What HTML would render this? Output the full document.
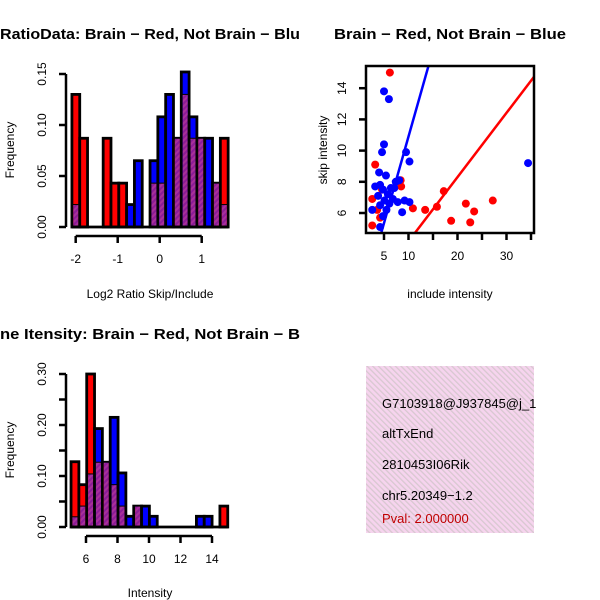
<!DOCTYPE html>
<html><head><meta charset="utf-8"><style>
html,body{margin:0;padding:0;background:#fff;}
svg{display:block;font-family:"Liberation Sans",sans-serif;}
</style></head><body>
<svg id="c" width="600" height="600" viewBox="0 0 600 600" xmlns="http://www.w3.org/2000/svg">
<defs>
<pattern id="purp" width="4" height="4" patternUnits="userSpaceOnUse" patternTransform="rotate(45)">
<rect width="4" height="4" fill="#8c1c98"/><rect width="2" height="4" fill="#a8309a"/></pattern>
<pattern id="pink" width="4" height="4" patternUnits="userSpaceOnUse" patternTransform="rotate(-45)">
<rect width="4" height="4" fill="#f6d4ee"/><rect width="1.3" height="4" fill="#d8c8d0"/></pattern>
<clipPath id="clipL"><rect x="0" y="0" width="300" height="600"/></clipPath>
<clipPath id="clipBox"><rect x="366" y="366" width="168" height="167"/></clipPath>
<clipPath id="clipSc"><rect x="366" y="66" width="168" height="167"/></clipPath>
</defs>
</svg>
<script>
// ---- top-left histogram data (Log2 ratio) ----
const ratioBinStart = -2.09;
const ratioBinWidth = 0.186;
const ratioRed =  [0.130,0.087,0,0,0.087,0.043,0.043,0,0,0,0.043,0.043,0,0.087,0.130,0.087,0.087,0,0.043,0.087];
const ratioBlue = [0.022,0,0,0,0,0,0,0.022,0.065,0,0.065,0.108,0.130,0.087,0.152,0.108,0.087,0.087,0.043,0.022];
const ratioXTicks = [-2,-1,0,1];
const ratioYTicks = [0,0.05,0.10,0.15];
const ratioYLabels = ["0.00","0.05","0.10","0.15"];
// ---- bottom-left histogram data (Intensity) ----
const intBinStart = 5.05;
const intBinWidth = 0.4975;
const intRed =  [0.128,0.083,0.30,0.127,0.127,0.083,0.041,0,0.041,0,0,0,0,0,0,0,0,0,0,0.041];
const intBlue = [0.02,0.041,0.104,0.193,0.127,0.215,0.106,0.021,0.041,0.041,0.021,0,0,0,0,0,0.021,0.021,0,0];
const intXTicks = [6,8,10,12,14];
const intYTicks = [0,0.05,0.10,0.15,0.20,0.25,0.30];
const intYLabels = ["0.00","","0.10","","0.20","","0.30"];
// ---- scatter data ----
const redInclude = [6.2,3.2,2.6,2.6,8.5,8.4,10.9,13.4,15.8,17.2,18.7,21.7,23.4,22.6,27.2,4.2,3.6,4.6];
const redSkip =    [15.0,9.1,6.9,5.2,7.7,8.1,6.3,6.2,6.4,7.4,5.5,6.6,6.1,5.4,6.8,5.7,6.2,7.5];
const blueInclude = [5.0,6.0,5.0,4.6,9.5,10.2,34.4,4.0,5.4,8.1,3.2,4.2,4.8,5.8,6.8,3.8,5.1,6.1,7.1,7.4,2.6,4.2,5.5,4.8,4.2,8.7,9.2,10.2,7.8,6.4];
const blueSkip =    [13.8,13.3,10.4,9.9,9.9,9.3,9.2,8.6,8.4,8.1,7.7,7.8,7.5,7.2,6.9,7.1,6.8,6.6,7.6,8.0,6.2,6.5,6.2,5.8,5.1,6.05,6.8,6.7,6.7,7.6];
const redFit = [0.06, 0.412];   // intercept, slope
const blueFit = [-0.2, 1.11];
const scXTicks = [5,10,15,20,25,30,35];
const scXLabels = ["5","10","","20","","30",""];
const scYTicks = [6,8,10,12,14];

const svg = document.getElementById('c');
const NS = 'http://www.w3.org/2000/svg';
function mk(tag, attrs, parent){
  const e = document.createElementNS(NS, tag);
  for (const k in attrs) e.setAttribute(k, attrs[k]);
  (parent||svg).appendChild(e);
  return e;
}
function txt(x,y,s,size,extra){
  const t = mk('text', Object.assign({x:x,y:y,'font-size':size,'text-anchor':'middle',fill:'#000'}, extra||{}));
  t.textContent = s;
  return t;
}

function hist(opt){
  const g = mk('g', {});
  
  
  const xs = v => opt.x0 + (v - opt.xv0) * opt.xk;
  const ys = v => opt.y0 - v * opt.yk;
  for (let i = 0; i < opt.red.length; i++){
    const r = opt.red[i], b = opt.blue[i];
    const xa = xs(opt.binStart + i*opt.binWidth), xb = xs(opt.binStart + (i+1)*opt.binWidth);
    const mx = Math.max(r,b), mn = Math.min(r,b);
    if (mx <= 0) continue;
    const bar = mk('rect', {x:xa, y:ys(mx), width:xb-xa, height:ys(0)-ys(mx), fill: r>=b ? '#ff0000' : '#0000ff', stroke:'#000', 'stroke-width':2.8}, g);
    
    
    if (mn > 0){
      const ov = mk('rect', {x:xa+1.4, y:ys(mn), width:xb-xa-2.8, height:ys(0)-ys(mn)-1.4, fill:'url(#purp)'}, g);
      
      
      mk('line', {x1:xa, x2:xb, y1:ys(mn), y2:ys(mn), stroke:'#000','stroke-width':1}, g);
    }
  }
  mk('line', {x1:xs(opt.binStart), x2:xs(opt.binStart+opt.red.length*opt.binWidth), y1:ys(0), y2:ys(0), stroke:'#000','stroke-width':2.8}, g);
  const ya = mk('g', {}, g);
  
  
  const yt = opt.yTicks;
  mk('line', {x1:66, x2:66, y1:ys(yt[0]), y2:ys(yt[yt.length-1]), stroke:'#000','stroke-width':2.5}, ya);
  yt.forEach((v,i)=>{
    mk('line', {x1:59, x2:66, y1:ys(v), y2:ys(v), stroke:'#000','stroke-width':2.5}, ya);
    if (opt.yLabels[i]) txt(46, ys(v), opt.yLabels[i], 12, {transform:`rotate(-90 46 ${ys(v)})`});
  });
  const xa = mk('g', {}, g);
  
  
  const xt = opt.xTicks, axY = opt.y0 + 9;
  mk('line', {x1:xs(xt[0]), x2:xs(xt[xt.length-1]), y1:axY, y2:axY, stroke:'#000','stroke-width':2.5}, xa);
  xt.forEach(v=>{
    mk('line', {x1:xs(v), x2:xs(v), y1:axY, y2:axY+7, stroke:'#000','stroke-width':2.5}, xa);
    txt(xs(v), axY+27, String(v), 12);
  });
}

// top-left
hist({name:'ratio-histogram', red:ratioRed, blue:ratioBlue, binStart:ratioBinStart, binWidth:ratioBinWidth,
  x0:75.7, xv0:-2, xk:42, y0:227, yk:1020, xTicks:ratioXTicks, yTicks:ratioYTicks, yLabels:ratioYLabels});
let t;
t = txt(0, 39, 'RatioData: Brain \u2212 Red, Not Brain \u2212 Blu', 14.5, {'text-anchor':'start','font-weight':'bold','textLength':300,'lengthAdjust':'spacingAndGlyphs'});


t = txt(150, 298, 'Log2 Ratio Skip/Include', 12);


t = txt(14, 150, 'Frequency', 12, {transform:'rotate(-90 14 150)'});



// bottom-left
hist({name:'intensity-histogram', red:intRed, blue:intBlue, binStart:intBinStart, binWidth:intBinWidth,
  x0:86, xv0:6, xk:15.75, y0:527, yk:510, xTicks:intXTicks, yTicks:intYTicks, yLabels:intYLabels});
t = txt(0, 339, 'ne Itensity: Brain \u2212 Red, Not Brain \u2212 B', 14.5, {'text-anchor':'start','font-weight':'bold','textLength':300,'lengthAdjust':'spacingAndGlyphs'});


t = txt(150, 597, 'Intensity', 12);


t = txt(14, 450, 'Frequency', 12, {transform:'rotate(-90 14 450)'});



// scatter
const sx = v => 384 + (v-5)*4.9;
const sy = v => 213 - (v-6)*15.6;
const sg = mk('g', {'clip-path':'url(#clipSc)'});


const fitLine = (fit, color, name) => {
  const x1 = 1, x2 = 40;
  const l = mk('line', {x1:sx(x1), y1:sy(fit[0]+fit[1]*x1), x2:sx(x2), y2:sy(fit[0]+fit[1]*x2), stroke:color, 'stroke-width':2.5}, sg);
  
  
};
redInclude.forEach((v,i)=>{
  const c = mk('circle', {cx:sx(v), cy:sy(redSkip[i]), r:4, fill:'#ff0000'}, sg);
  
  
});
blueInclude.forEach((v,i)=>{
  const c = mk('circle', {cx:sx(v), cy:sy(blueSkip[i]), r:4, fill:'#0000ff'}, sg);
  
  
});
fitLine(blueFit, '#0000ff', 'blue-fit-line');
fitLine(redFit, '#ff0000', 'red-fit-line');
const fr = mk('rect', {x:366, y:66, width:168, height:167, fill:'none', stroke:'#000', 'stroke-width':2.5});


scXTicks.forEach((v,i)=>{
  mk('line', {x1:sx(v), x2:sx(v), y1:233, y2:240, stroke:'#000','stroke-width':2.5});
  if (scXLabels[i]) txt(sx(v), 260, scXLabels[i], 12);
});
scYTicks.forEach(v=>{
  mk('line', {x1:359, x2:366, y1:sy(v), y2:sy(v), stroke:'#000','stroke-width':2.5});
  txt(346, sy(v), String(v), 12, {transform:`rotate(-90 346 ${sy(v)})`});
});
t = txt(334, 39, 'Brain \u2212 Red, Not Brain \u2212 Blue', 14.5, {'text-anchor':'start','font-weight':'bold','textLength':232,'lengthAdjust':'spacingAndGlyphs'});


t = txt(450, 298, 'include intensity', 12);


t = txt(327, 150, 'skip intensity', 12, {transform:'rotate(-90 327 150)'});



// info box
const ib = mk('g', {'clip-path':'url(#clipBox)'});


mk('rect', {x:366, y:366, width:168, height:167, fill:'url(#pink)'}, ib);
const lines = [['G7103918@J937845@j_1','#000',408],['altTxEnd','#000',438],['2810453I06Rik','#000',469],['chr5.20349\u22121.2','#000',500],['Pval: 2.000000','#c00000',523]];
lines.forEach((l,i)=>{
  const e = txt(382, l[2], l[0], 13, {'text-anchor':'start', fill:l[1]});
  
  
});
</script>
</body></html>
